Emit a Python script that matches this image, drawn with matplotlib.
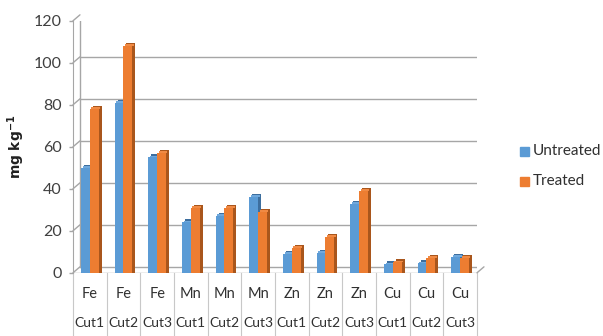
import numpy as np
import matplotlib
matplotlib.use('Agg')
import matplotlib.pyplot as plt
import matplotlib.transforms as mtransforms

plt.rcParams['font.family'] = ['Lato', 'DejaVu Sans']

# micronutrient content per element and cut
elements = ['Fe', 'Fe', 'Fe', 'Mn', 'Mn', 'Mn', 'Zn', 'Zn', 'Zn', 'Cu', 'Cu', 'Cu']
cuts = ['Cut1', 'Cut2', 'Cut3'] * 4
untreated = [50, 81, 55, 24, 27, 36, 9, 9.5, 33, 4, 4.5, 7.5]
treated = [78, 108, 57, 31, 31, 29, 12, 17, 39, 5, 7, 7]
y_ticks = [0, 20, 40, 60, 80, 100, 120]

blue, blue_dark, blue_top = '#5B9BD5', '#3D6E9E', '#6FA8DC'
orange, orange_dark, orange_top = '#ED7D31', '#A9561C', '#F08A44'
grid_col = '#A6A6A6'

fig = plt.figure(figsize=(6.03, 3.36), dpi=100)
ax = fig.add_axes([0.121, 0.188, 0.670, 0.75])

x = np.arange(len(cuts))
w = 0.26
dx, dy = 0.09, 1.4

# back wall gridlines, shifted up/right to fake the 3D depth
back = mtransforms.offset_copy(ax.transData, fig=fig, x=7, y=6, units='dots')
for t in y_ticks:
    ax.plot([-0.5, 11.5], [t, t], color=grid_col, lw=1.0, transform=back, zorder=0)
ax.plot([-0.5, -0.5], [0, 120], color=grid_col, lw=1.0, transform=back, zorder=0)
ax.plot([-0.5, 11.5], [0, 0], color=grid_col, lw=1.0, zorder=0.5)
line_kw = dict(arrowstyle='-', color=grid_col, lw=1.0, shrinkA=0, shrinkB=0)
for t in y_ticks:
    ax.annotate('', xy=(-0.5, t), xycoords=back, xytext=(-0.5, t),
                textcoords='data', arrowprops=line_kw)
ax.annotate('', xy=(11.5, 0), xycoords=back, xytext=(11.5, 0),
            textcoords='data', arrowprops=line_kw)

# columns: dark side behind, light top, front face on top
for xs, vals, c, cd, ct in [(x - w / 2, untreated, blue, blue_dark, blue_top),
                            (x + w / 2, treated, orange, orange_dark, orange_top)]:
    vals = np.array(vals)
    ax.bar(xs + dx, vals + dy, width=w, color=cd, zorder=2)
    ax.bar(xs + dx / 2, dy * 0.6, bottom=vals, width=w, color=ct, zorder=2.5)
    ax.bar(xs, vals, width=w, color=c, zorder=3)

ax.set_xlim(-0.5, 11.5)
ax.set_ylim(0, 120)
ax.set_yticks(y_ticks)
ax.tick_params(axis='y', labelsize=11.5, colors='#404040', length=3, width=1,
               pad=5)
ax.tick_params(axis='y', color=grid_col)
ax.set_xticks([])
for s in ['top', 'right', 'bottom']:
    ax.spines[s].set_visible(False)
ax.spines['left'].set_color(grid_col)
ax.patch.set_alpha(0)

ax.set_ylabel(r'$\mathbf{mg\ kg^{-1}}$', fontsize=10, color='#202020',
              labelpad=5)

# category table under the axis
tb = mtransforms.blended_transform_factory(ax.transData, ax.transAxes)
for b in np.arange(-0.5, 12.0, 1.0):
    ax.plot([b, b], [0, -0.35], color='#C8C8C8', lw=0.8, transform=tb,
            clip_on=False)
for xi, el in zip(x, elements):
    ax.text(xi, -0.085, el, transform=tb, ha='center', va='center',
            fontsize=10.5, color='#303030')
for xi, ct in zip(x, cuts):
    ax.text(xi, -0.2, ct, transform=tb, ha='center', va='center',
            fontsize=10, color='#303030')

# legend
fig.patches.append(plt.Rectangle((0.863, 0.535), 0.015, 0.028, color=blue,
                                 transform=fig.transFigure))
fig.text(0.883, 0.55, 'Untreated', fontsize=11, va='center', color='#303030')
fig.patches.append(plt.Rectangle((0.863, 0.445), 0.015, 0.028, color=orange,
                                 transform=fig.transFigure))
fig.text(0.883, 0.46, 'Treated', fontsize=11, va='center', color='#303030')

fig.savefig('out.png', dpi=100)
